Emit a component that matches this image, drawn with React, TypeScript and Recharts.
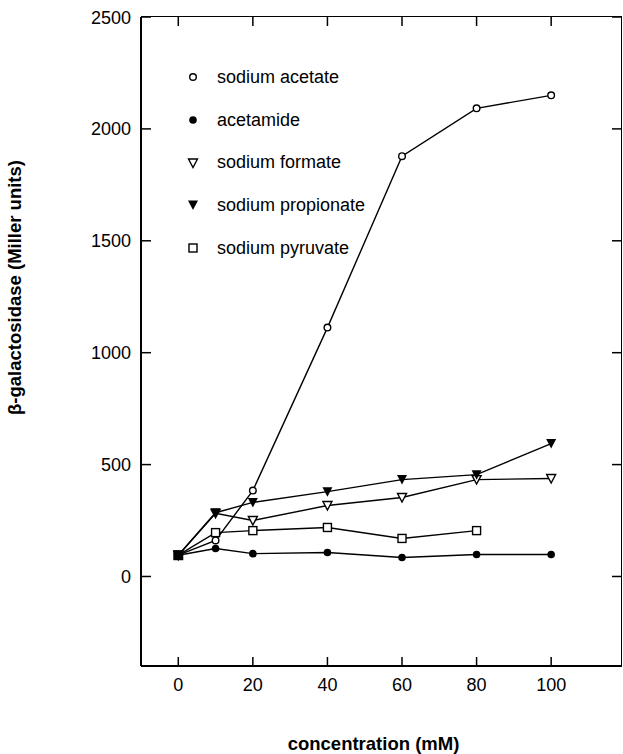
import { LineChart, Line, XAxis, YAxis, Legend, Label } from "recharts";

const concentrations = [0, 10, 20, 40, 60, 80, 100];
const sodiumAcetate = [95, 161, 384, 1112, 1878, 2092, 2150];
const acetamide = [95, 125, 102, 107, 85, 98, 98];
const sodiumFormate = [95, 282, 250, 317, 353, 433, 438];
const sodiumPropionate = [95, 285, 331, 379, 433, 455, 594];
const sodiumPyruvate = [95, 196, 205, 219, 170, 205, null];

const xTicks = [0, 20, 40, 60, 80, 100];
const yTicks = [0, 500, 1000, 1500, 2000, 2500];
const xDomain = [-10, 119];
const yDomain = [-400, 2500];

const seriesNames = [
  "sodium acetate",
  "acetamide",
  "sodium formate",
  "sodium propionate",
  "sodium pyruvate",
];

const data = concentrations.map((c, i) => ({
  conc: c,
  acetate: sodiumAcetate[i],
  acetamide: acetamide[i],
  formate: sodiumFormate[i],
  propionate: sodiumPropionate[i],
  pyruvate: sodiumPyruvate[i],
}));

const WIDTH = 623;
const HEIGHT = 754;
const MARGIN = { top: 17, right: 1, left: 10, bottom: 0 };
const Y_AXIS_W = 131;
const X_AXIS_H = 88;
// edges of the plot frame that have no axis of their own
const FRAME_TOP = MARGIN.top;
const FRAME_RIGHT = WIDTH - MARGIN.right;
const FRAME_LEFT = MARGIN.left + Y_AXIS_W;
const FRAME_BOTTOM = HEIGHT - MARGIN.bottom - X_AXIS_H;

const FONT = "'Liberation Sans', Arial, Helvetica, sans-serif";

type Marker = "openCircle" | "filledCircle" | "openTriangle" | "filledTriangle" | "openSquare";

const markers: Marker[] = [
  "openCircle",
  "filledCircle",
  "openTriangle",
  "filledTriangle",
  "openSquare",
];

const drawMarker = (kind: Marker, cx: number, cy: number, solid = false) => {
  switch (kind) {
    case "openCircle":
      return <circle cx={cx} cy={cy} r={3.3} fill="#fff" stroke="#000" strokeWidth={1.4} />;
    case "filledCircle":
      return <circle cx={cx} cy={cy} r={3.8} fill="#000" />;
    case "openTriangle":
      return (
        <polygon
          points={`${cx - 4.5},${cy - 4} ${cx + 4.5},${cy - 4} ${cx},${cy + 4.5}`}
          fill="#fff"
          stroke="#000"
          strokeWidth={1.4}
        />
      );
    case "filledTriangle":
      return (
        <polygon
          points={`${cx - 5},${cy - 4.5} ${cx + 5},${cy - 4.5} ${cx},${cy + 5}`}
          fill="#000"
        />
      );
    case "openSquare":
      if (solid) {
        return <rect x={cx - 5} y={cy - 5} width={10} height={10} fill="#000" />;
      }
      return (
        <rect x={cx - 4} y={cy - 4} width={8} height={8} fill="#fff" stroke="#000" strokeWidth={1.4} />
      );
  }
};

const makeDot = (kind: Marker) => (props: any) => {
  const { cx, cy, payload, index } = props;
  if (cx == null || cy == null || props.value == null) return <g key={`d-${kind}-${index}`} />;
  // every series shares the 0 mM point, which prints as one solid block
  const solid = payload && payload.conc === 0;
  return <g key={`d-${kind}-${index}`}>{drawMarker(kind, cx, cy, solid)}</g>;
};

const LegendBox = () => (
  <div style={{ fontFamily: FONT, fontSize: 18, color: "#000" }}>
    {seriesNames.map((name, i) => (
      <div key={name} style={{ display: "flex", alignItems: "center", height: 42.7 }}>
        <svg width={14} height={14} style={{ marginRight: 17 }}>
          {drawMarker(markers[i], 7, 7)}
        </svg>
        <span>{name}</span>
      </div>
    ))}
  </div>
);

const textStyle = { fontFamily: FONT, fontSize: 18, fill: "#000" };

// ticks point into the frame; the top and right edges mirror them
const BottomTick = ({ x, y, payload }: any) => (
  <g>
    <line x1={x} x2={x} y1={y} y2={y - 9} stroke="#000" strokeWidth={1.5} />
    <line x1={x} x2={x} y1={FRAME_TOP} y2={FRAME_TOP + 9} stroke="#000" strokeWidth={1.5} />
    <text x={x} y={y + 25} textAnchor="middle" {...textStyle}>
      {payload.value}
    </text>
  </g>
);

const LeftTick = ({ x, y, payload }: any) => (
  <g>
    <line x1={x} x2={x + 10} y1={y} y2={y} stroke="#000" strokeWidth={1.5} />
    <line x1={FRAME_RIGHT} x2={FRAME_RIGHT - 10} y1={y} y2={y} stroke="#000" strokeWidth={1.5} />
    <text x={x - 10} y={y + 6.5} textAnchor="end" {...textStyle}>
      {payload.value}
    </text>
  </g>
);

export default function App() {
  return (
    <div style={{ position: "absolute", left: 0, top: 0, width: WIDTH, height: HEIGHT, background: "#fff" }}>
      <LineChart width={WIDTH} height={HEIGHT} data={data} margin={MARGIN}>
        <XAxis
          dataKey="conc"
          type="number"
          domain={xDomain}
          ticks={xTicks}
          allowDataOverflow
          height={X_AXIS_H}
          tickSize={0}
          tickMargin={0}
          tickLine={false}
          tick={<BottomTick />}
          axisLine={{ stroke: "#000", strokeWidth: 2 }}
        >
          <Label
            value="concentration (mM)"
            position="insideBottom"
            offset={4}
            dx={-8}
            style={{ fontFamily: FONT, fontSize: 18.5, fontWeight: "bold", fill: "#000" }}
          />
        </XAxis>
        <YAxis
          type="number"
          domain={yDomain}
          ticks={yTicks}
          allowDataOverflow
          width={Y_AXIS_W}
          tickSize={0}
          tickMargin={0}
          tickLine={false}
          tick={<LeftTick />}
          axisLine={{ stroke: "#000", strokeWidth: 2 }}
        >
          <Label
            value="β-galactosidase (Miller units)"
            angle={-90}
            position="insideLeft"
            offset={4}
            dy={-54}
            style={{ fontFamily: FONT, fontSize: 18.5, fontWeight: "bold", fill: "#000", textAnchor: "middle" }}
          />
        </YAxis>
        <Legend
          layout="vertical"
          align="center"
          verticalAlign="middle"
          content={<LegendBox />}
          wrapperStyle={{ position: "absolute", left: 186, top: 56, width: 260 }}
        />
        <Line dataKey="acetate" name={seriesNames[0]} stroke="#000" strokeWidth={1.4} dot={makeDot("openCircle")} isAnimationActive={false} />
        <Line dataKey="acetamide" name={seriesNames[1]} stroke="#000" strokeWidth={1.4} dot={makeDot("filledCircle")} isAnimationActive={false} />
        <Line dataKey="formate" name={seriesNames[2]} stroke="#000" strokeWidth={1.4} dot={makeDot("openTriangle")} isAnimationActive={false} />
        <Line dataKey="propionate" name={seriesNames[3]} stroke="#000" strokeWidth={1.4} dot={makeDot("filledTriangle")} isAnimationActive={false} />
        <Line dataKey="pyruvate" name={seriesNames[4]} stroke="#000" strokeWidth={1.4} dot={makeDot("openSquare")} isAnimationActive={false} />
      </LineChart>
      {/* top and right edges of the frame */}
      <div
        style={{
          position: "absolute",
          left: FRAME_LEFT,
          top: FRAME_TOP - 1,
          width: FRAME_RIGHT - FRAME_LEFT,
          height: FRAME_BOTTOM - FRAME_TOP + 1,
          borderTop: "1.5px solid #000",
          borderRight: "1.5px solid #000",
          boxSizing: "border-box",
          pointerEvents: "none",
        }}
      />
    </div>
  );
}
